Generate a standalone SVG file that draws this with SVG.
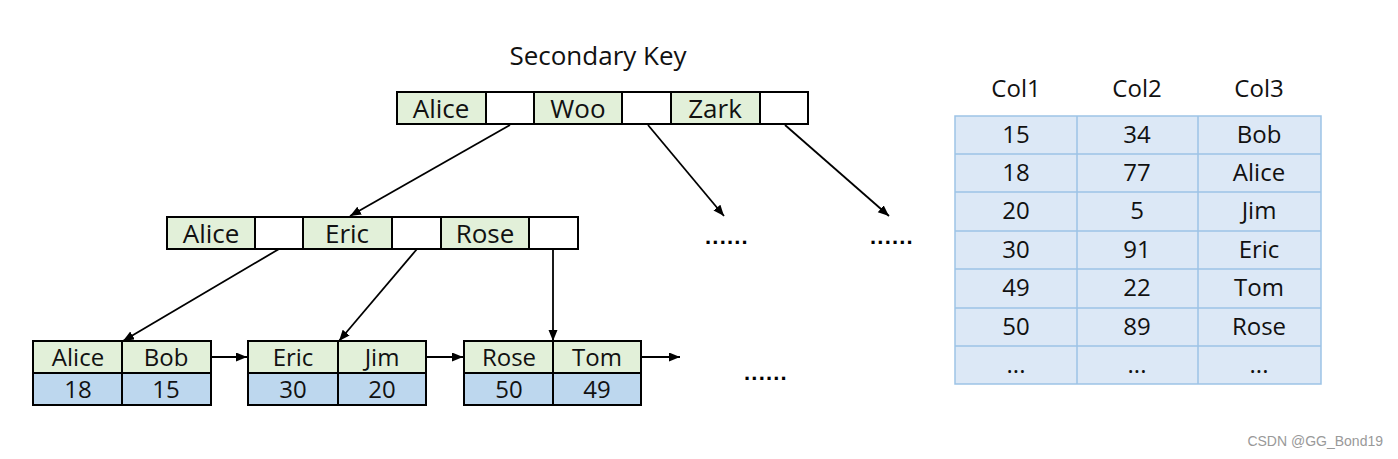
<svg xmlns="http://www.w3.org/2000/svg" width="1398" height="459" viewBox="0 0 1398 459">
  <style>
    .t { font-family: "Open Sans", "Noto Sans", "Liberation Sans", sans-serif; fill: #111; text-anchor: middle; }
    .cell { font-size: 26px; }
    .lf { font-size: 24px; }
    .key { fill: #e2f0d9; stroke: #000; stroke-width: 2; }
    .ptr { fill: #fff; stroke: #000; stroke-width: 2; }
    .val { fill: #bdd7ee; stroke: #000; stroke-width: 2; }
    .tbl { fill: #dce8f6; stroke: #9dc3e6; stroke-width: 1.5; }
    .tc { font-size: 24px; }
    .conn { stroke: #000; stroke-width: 1.8; fill: none; marker-end: url(#arr); }
    .dots { font-family: "Liberation Sans", sans-serif; font-size: 22px; font-weight: bold; letter-spacing: 1.2px; fill: #000; text-anchor: middle; }
  </style>
  <defs>
    <marker id="arr" markerUnits="userSpaceOnUse" markerWidth="12" markerHeight="10" refX="11" refY="4.5" orient="auto">
      <path d="M0,0 L11,4.5 L0,9 z" fill="#000"/>
    </marker>
  </defs>
  <rect width="1398" height="459" fill="#fff"/>

  <text class="t" x="598" y="65" font-size="26">Secondary Key</text>

  <g id="root">
    <rect class="key" x="397" y="92" width="89" height="32"/>
    <rect class="ptr" x="486" y="92" width="48" height="32"/>
    <rect class="key" x="534" y="92" width="88" height="32"/>
    <rect class="ptr" x="622" y="92" width="49" height="32"/>
    <rect class="key" x="671" y="92" width="89" height="32"/>
    <rect class="ptr" x="760" y="92" width="48" height="32"/>
    <text class="t cell" x="441" y="118">Alice</text>
    <text class="t cell" x="578" y="118">Woo</text>
    <text class="t cell" x="715" y="118">Zark</text>
  </g>

  <g id="inner">
    <rect class="key" x="167" y="217" width="88" height="32"/>
    <rect class="ptr" x="255" y="217" width="48" height="32"/>
    <rect class="key" x="303" y="217" width="89" height="32"/>
    <rect class="ptr" x="392" y="217" width="49" height="32"/>
    <rect class="key" x="441" y="217" width="88" height="32"/>
    <rect class="ptr" x="529" y="217" width="49" height="32"/>
    <text class="t cell" x="211" y="243">Alice</text>
    <text class="t cell" x="347" y="243">Eric</text>
    <text class="t cell" x="485" y="243">Rose</text>
  </g>

  <g id="leaf1">
    <rect class="key" x="33" y="341" width="89" height="32"/>
    <rect class="key" x="122" y="341" width="89" height="32"/>
    <rect class="val" x="33" y="373" width="89" height="32"/>
    <rect class="val" x="122" y="373" width="89" height="32"/>
    <text class="t lf" x="78" y="366">Alice</text>
    <text class="t lf" x="166" y="366">Bob</text>
    <text class="t lf" x="78" y="398">18</text>
    <text class="t lf" x="166" y="398">15</text>
  </g>

  <g id="leaf2">
    <rect class="key" x="248" y="341" width="90" height="32"/>
    <rect class="key" x="338" y="341" width="88" height="32"/>
    <rect class="val" x="248" y="373" width="90" height="32"/>
    <rect class="val" x="338" y="373" width="88" height="32"/>
    <text class="t lf" x="293" y="366">Eric</text>
    <text class="t lf" x="382" y="366">Jim</text>
    <text class="t lf" x="293" y="398">30</text>
    <text class="t lf" x="382" y="398">20</text>
  </g>

  <g id="leaf3">
    <rect class="key" x="464" y="341" width="89" height="32"/>
    <rect class="key" x="553" y="341" width="88" height="32"/>
    <rect class="val" x="464" y="373" width="89" height="32"/>
    <rect class="val" x="553" y="373" width="88" height="32"/>
    <text class="t lf" x="509" y="366">Rose</text>
    <text class="t lf" x="597" y="366">Tom</text>
    <text class="t lf" x="509" y="398">50</text>
    <text class="t lf" x="597" y="398">49</text>
  </g>

  <g id="dots">
    <text class="dots" x="727" y="244">......</text>
    <text class="dots" x="892" y="244">......</text>
    <text class="dots" x="766" y="380">......</text>
  </g>

  <g id="connectors">
    <line class="conn" x1="510" y1="125" x2="350" y2="216"/>
    <line class="conn" x1="648" y1="125" x2="724" y2="216"/>
    <line class="conn" x1="785" y1="125" x2="889" y2="216"/>
    <line class="conn" x1="279" y1="249" x2="123" y2="341"/>
    <line class="conn" x1="417" y1="249" x2="339" y2="341"/>
    <line class="conn" x1="553" y1="249" x2="553" y2="341"/>
    <line class="conn" x1="211" y1="357" x2="247" y2="357"/>
    <line class="conn" x1="426" y1="357" x2="463" y2="357"/>
    <line class="conn" x1="641" y1="357" x2="680" y2="357"/>
  </g>

  <g id="table">
    <text class="t tc" x="1016" y="97">Col1</text>
    <text class="t tc" x="1137" y="97">Col2</text>
    <text class="t tc" x="1259" y="97">Col3</text>
    <rect class="tbl" x="955" y="116" width="366" height="268"/>
    <g stroke="#9dc3e6" stroke-width="1.5">
      <line x1="1077" y1="116" x2="1077" y2="384"/>
      <line x1="1198" y1="116" x2="1198" y2="384"/>
      <line x1="955" y1="154" x2="1321" y2="154"/>
      <line x1="955" y1="192" x2="1321" y2="192"/>
      <line x1="955" y1="231" x2="1321" y2="231"/>
      <line x1="955" y1="269" x2="1321" y2="269"/>
      <line x1="955" y1="308" x2="1321" y2="308"/>
      <line x1="955" y1="346" x2="1321" y2="346"/>
    </g>
    <text class="t tc" x="1016" y="143">15</text>
    <text class="t tc" x="1137" y="143">34</text>
    <text class="t tc" x="1259" y="143">Bob</text>
    <text class="t tc" x="1016" y="181">18</text>
    <text class="t tc" x="1137" y="181">77</text>
    <text class="t tc" x="1259" y="181">Alice</text>
    <text class="t tc" x="1016" y="219">20</text>
    <text class="t tc" x="1137" y="219">5</text>
    <text class="t tc" x="1259" y="219">Jim</text>
    <text class="t tc" x="1016" y="258">30</text>
    <text class="t tc" x="1137" y="258">91</text>
    <text class="t tc" x="1259" y="258">Eric</text>
    <text class="t tc" x="1016" y="296">49</text>
    <text class="t tc" x="1137" y="296">22</text>
    <text class="t tc" x="1259" y="296">Tom</text>
    <text class="t tc" x="1016" y="335">50</text>
    <text class="t tc" x="1137" y="335">89</text>
    <text class="t tc" x="1259" y="335">Rose</text>
    <text class="t tc" x="1016" y="373" font-size="20">...</text>
    <text class="t tc" x="1137" y="373" font-size="20">...</text>
    <text class="t tc" x="1259" y="373" font-size="20">...</text>
  </g>

  <text x="1383" y="446" font-family="'Liberation Sans', sans-serif" font-size="14" fill="#999" text-anchor="end">CSDN @GG_Bond19</text>
</svg>
